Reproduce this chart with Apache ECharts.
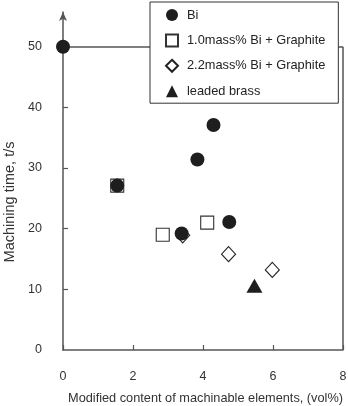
<!DOCTYPE html>
<html>
<head>
<meta charset="utf-8">
<script src="https://cdn.jsdelivr.net/npm/echarts@6/dist/echarts.min.js"></script>
<style>
html,body{margin:0;padding:0;background:#fff;}
#chart{width:348px;height:406px;}
</style>
</head>
<body>
<div id="chart"></div>
<script>
// ---- data ----
const seriesNames = ['Bi', '1.0mass% Bi + Graphite', '2.2mass% Bi + Graphite', 'leaded brass'];
const biData = [[0, 50], [1.55, 27.1], [3.39, 19.2], [3.84, 31.4], [4.30, 37.1], [4.75, 21.1]];
const graphite10Data = [[1.55, 27.1], [2.85, 19.0], [4.12, 21.0]];
const graphite22Data = [[3.42, 18.9], [4.73, 15.8], [5.98, 13.2]];
const brassData = [[5.47, 10.6]];
const xTicks = [0, 2, 4, 6, 8];
const yTicks = [0, 10, 20, 30, 40, 50];
const yInnerTicks = [10, 20, 30, 40];
const frameTop = 50;
const xMax = 8;

const FONT = '"Liberation Sans", Arial, sans-serif';
const AXIS = '#555';
const INK = '#1e1e1e';

const chart = echarts.init(document.getElementById('chart'), null, {renderer: 'canvas'});
chart.setOption({
  animation: false,
  backgroundColor: '#fff',
  textStyle: {fontFamily: FONT},
  grid: {left: 63, right: 5, top: 12, bottom: 56, containLabel: false, outerBoundsMode: 'none'},
  legend: {
    data: seriesNames,
    orient: 'vertical',
    left: 150,
    top: 2,
    padding: [6, 13, 5, 15],
    itemWidth: 12,
    itemHeight: 12,
    itemGap: 11.4,
    symbolKeepAspect: true,
    borderColor: '#333',
    borderWidth: 1,
    backgroundColor: '#fff',
    z: 10,
    textStyle: {fontFamily: FONT, fontSize: 12.8, color: '#222', lineHeight: 14, padding: [0, 0, 0, 4]}
  },
  xAxis: {
    type: 'value',
    min: 0, max: xMax, interval: 2,
    name: 'Modified content of machinable elements, (vol%)',
    nameLocation: 'middle',
    nameGap: 42,
    nameMoveOverlap: false,
    nameTextStyle: {fontFamily: FONT, fontSize: 12.75, color: '#333', padding: [0, 0, 0, 5]},
    axisLine: {lineStyle: {color: AXIS, width: 1.5}},
    axisTick: {inside: true, length: 5, lineStyle: {color: AXIS, width: 1.2}},
    axisLabel: {margin: 20, fontFamily: FONT, fontSize: 12.5, color: '#333', customValues: xTicks},
    splitLine: {show: false}
  },
  yAxis: {
    type: 'value',
    min: 0, max: 55.72, interval: 10,
    name: 'Machining time, t/s',
    nameLocation: 'middle',
    nameGap: 46,
    nameMoveOverlap: false,
    nameTextStyle: {fontFamily: FONT, fontSize: 14.5, color: '#333', padding: [0, 42, 0, 0]},
    axisLine: {lineStyle: {color: AXIS, width: 1.5}, symbol: ['none', 'arrow'], symbolSize: [6, 9]},
    axisTick: {inside: true, length: 5, lineStyle: {color: AXIS, width: 1.2}, customValues: yInnerTicks},
    axisLabel: {margin: 21, fontFamily: FONT, fontSize: 12.5, color: '#333', customValues: yTicks, padding: [0, 0, 4, 0]},
    splitLine: {show: false}
  },
  series: [
    {
      name: 'frame', type: 'scatter', data: [], silent: true, z: 1,
      markLine: {
        silent: true, symbol: 'none', animation: false,
        label: {show: false},
        lineStyle: {color: AXIS, width: 1.5, type: 'solid'},
        data: [
          [{coord: [0, frameTop]}, {coord: [xMax, frameTop]}],
          [{coord: [xMax, frameTop]}, {coord: [xMax, 0]}]
        ]
      }
    },
    {
      name: seriesNames[0], type: 'scatter', data: biData, clip: false, z: 5,
      symbol: 'circle', symbolSize: 14,
      itemStyle: {color: INK, opacity: 1}
    },
    {
      name: seriesNames[1], type: 'scatter', data: graphite10Data, clip: false, z: 3,
      symbol: 'rect', symbolSize: 13,
      itemStyle: {color: '#fff', borderColor: '#333', borderWidth: 1.1, opacity: 1}
    },
    {
      name: seriesNames[2], type: 'scatter', data: graphite22Data, clip: false, z: 3,
      symbol: 'diamond', symbolSize: [14, 15],
      itemStyle: {color: '#fff', borderColor: '#222', borderWidth: 1.1, opacity: 1}
    },
    {
      name: seriesNames[3], type: 'scatter', data: brassData, clip: false, z: 4,
      symbol: 'triangle', symbolSize: [16, 14],
      itemStyle: {color: INK, opacity: 1}
    }
  ]
});
</script>
</body>
</html>
